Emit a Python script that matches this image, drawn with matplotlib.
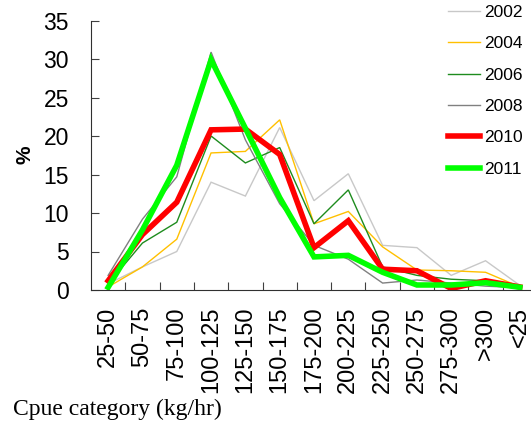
import numpy as np
import matplotlib
matplotlib.use("Agg")
import matplotlib.pyplot as plt

# cpue categories and share of catch (%) per year
categories = ["25-50", "50-75", "75-100", "100-125", "125-150", "150-175", "175-200",
              "200-225", "225-250", "250-275", "275-300", ">300", "<25"]
y2002 = [0.8, 3.0, 5.0, 14.0, 12.2, 21.1, 11.6, 15.1, 5.8, 5.5, 1.9, 3.8, 0.6]
y2004 = [0.4, 3.0, 6.6, 17.8, 18.0, 22.1, 8.6, 10.2, 5.6, 2.6, 2.5, 2.3, 0.4]
y2006 = [0.8, 6.1, 8.8, 20.0, 16.5, 18.5, 8.6, 13.0, 3.0, 1.9, 1.4, 1.2, 0.4]
y2008 = [1.9, 9.2, 14.7, 30.9, 19.5, 11.2, 5.8, 4.0, 0.9, 1.3, 0.9, 0.5, 0.3]
y2010 = [1.2, 7.2, 11.4, 20.8, 20.9, 17.6, 5.5, 9.0, 2.7, 2.5, 0.2, 1.2, 0.4]
y2011 = [0.35, 7.8, 16.2, 29.9, 21.0, 12.0, 4.3, 4.5, 2.3, 0.65, 0.65, 0.95, 0.35]

series = [
    ("2002", y2002, "#c8c8c8", 1.0),
    ("2004", y2004, "#ffc000", 1.0),
    ("2006", y2006, "#1e8c1e", 1.0),
    ("2008", y2008, "#808080", 1.0),
    ("2010", y2010, "#ff0000", 4.0),
    ("2011", y2011, "#00ff00", 4.0),
]

fig = plt.figure(figsize=(5.31, 4.23), dpi=100)
ax = fig.add_axes([91 / 531, 133 / 423, 446 / 531, 269.5 / 423])

x = np.arange(len(categories))
for name, vals, col, lw in series:
    ax.plot(x, vals, color=col, lw=lw, label=name, solid_joinstyle="miter")

ax.set_xlim(-0.5, len(categories) - 0.5)
ax.set_ylim(0, 35)
ax.set_yticks(range(0, 36, 5))

# tick marks on category boundaries, labels at centres
ax.set_xticks(np.arange(0.5, len(categories) - 1, 1.0))
ax.set_xticklabels([])
ax.set_xticks(x, minor=True)
ax.set_xticklabels(categories, minor=True, rotation=90, fontsize=17,
                   fontfamily="Liberation Sans", va="top")
ax.tick_params(axis="x", which="minor", length=0, pad=12)
ax.tick_params(axis="x", which="major", direction="in", length=6, color="#404040")
ax.tick_params(axis="y", direction="in", length=6, pad=16, color="#404040",
               labelsize=16.5)
for lab in ax.get_yticklabels():
    lab.set_fontfamily("Liberation Sans")

for s in ["top", "right"]:
    ax.spines[s].set_visible(False)
for s in ["left", "bottom"]:
    ax.spines[s].set_color("#303030")

fig.text(25 / 531, 1 - 155 / 423, "%", rotation=90, fontsize=15, fontweight="bold",
         fontfamily="Liberation Sans", ha="center", va="center")
fig.text(13 / 531, 1 - 409 / 423, "Cpue category (kg/hr)", fontsize=17,
         fontfamily="Liberation Serif", ha="left", va="center")

leg = ax.legend(loc="upper left", bbox_to_anchor=(448 / 531, 1 - 5 / 423),
                bbox_transform=fig.transFigure, frameon=False, borderpad=0,
                borderaxespad=0, handlelength=1.85, handletextpad=0.25,
                labelspacing=0.93, prop={"family": "Liberation Sans", "size": 12.5})

fig.savefig("out.png", dpi=100)
